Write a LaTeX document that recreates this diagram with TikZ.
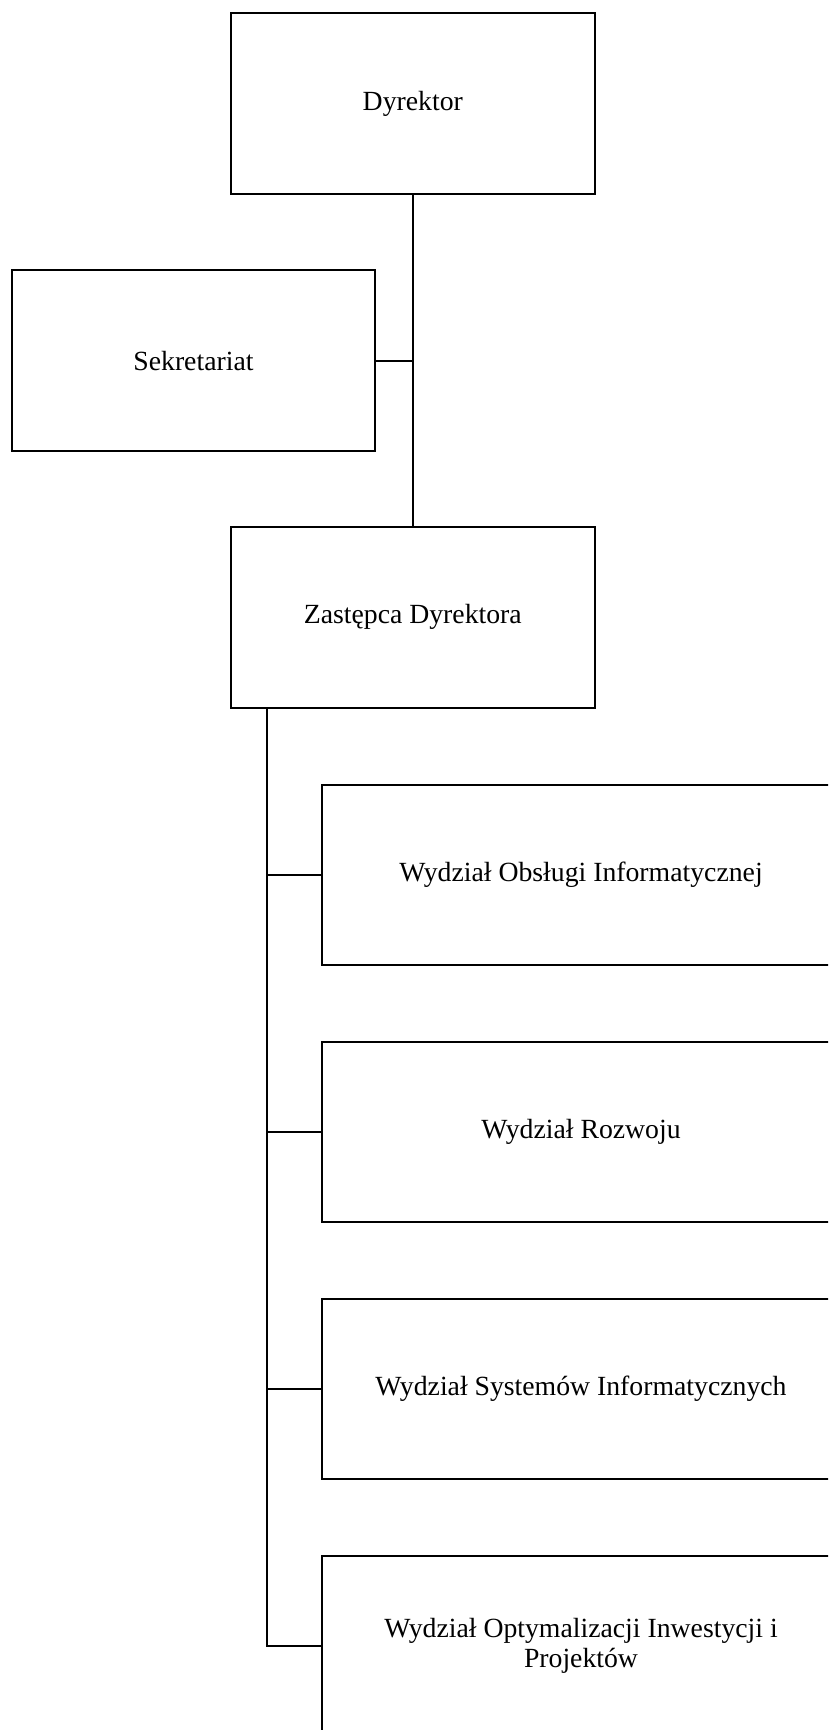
\documentclass[tikz,border=0pt]{standalone}
\usepackage{fontspec}
\setmainfont{Liberation Serif}
\usetikzlibrary{positioning,calc}
\begin{document}
\begin{tikzpicture}[x=1pt,y=-1pt,
  unit/.style={draw,line width=1.5pt,minimum width=272.6pt,minimum height=135.6pt,inner sep=0pt,align=center,font=\fontsize{20.8}{22.2}\selectfont},
  dept/.style={unit,minimum width=388.5pt},
  link/.style={line width=1.5pt}]
\useasboundingbox (0,0) rectangle (621,1297.5);
\clip (0,0) rectangle (621,1297.5);
\node[unit] (dyr) at (309.6,77.6) {Dyrektor};
\node[unit] (sekr) at (145.1,270.4) {Sekretariat};
\node[unit] (zast) at (309.6,463.0) {Zastępca Dyrektora};
\node[dept] (wydzOI) at (435.75,656.25) {Wydział Obsługi Informatycznej};
\node[dept] (wydzR) at (435.75,849.0) {Wydział Rozwoju};
\node[dept] (wydzSI) at (435.75,1041.75) {Wydział Systemów Informatycznych};
\node[dept] (wydzOIP) at (435.75,1234.5) {Wydział Optymalizacji Inwestycji i\\Projektów};
\coordinate[right=27.75pt of zast.south west] (trunk);
\draw[link] (dyr.south) -- (zast.north);
\draw[link] (sekr.east) -- (sekr.east -| dyr.south);
\draw[link] (trunk) -- (trunk |- wydzOIP.west) -- (wydzOIP.west);
\draw[link] (trunk |- wydzOI.west) -- (wydzOI.west);
\draw[link] (trunk |- wydzR.west) -- (wydzR.west);
\draw[link] (trunk |- wydzSI.west) -- (wydzSI.west);
\end{tikzpicture}
\end{document}
